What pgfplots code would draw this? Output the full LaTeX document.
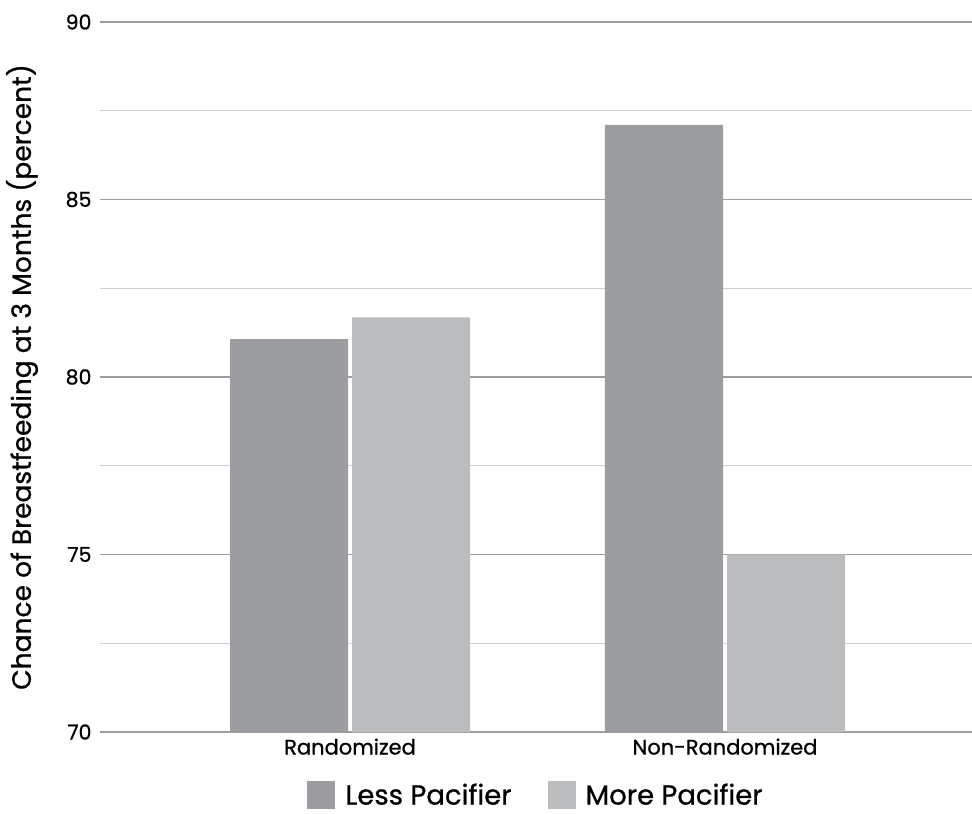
\documentclass[border=0pt]{standalone}
\usepackage{fontspec}
\setmainfont{Poppins}[FakeBold=0.8]
\usepackage{pgfplots}
\pgfplotsset{compat=1.18}
\definecolor{lessc}{HTML}{9C9DA1}
\definecolor{morec}{HTML}{BBBCBE}
\definecolor{majg}{HTML}{9E9E9E}
\definecolor{ming}{HTML}{CFCFCF}
\begin{document}
\begin{tikzpicture}[x=1pt,y=1pt]
\begin{axis}[
  scale only axis, width=872pt, height=710pt,
  at={(0,0)}, anchor=south west,
  xmin=-0.6667, xmax=1.6587, ymin=70, ymax=90,
  ybar=4pt, bar width=118pt,
  xtick={0,1}, xticklabels={Randomized,Non-Randomized},
  ytick={70,75,80,85,90}, minor ytick={72.5,77.5,82.5,87.5},
  ymajorgrids, yminorgrids,
  major grid style={draw=majg, line width=1.6pt},
  minor grid style={draw=ming, line width=1.4pt},
  axis line style={draw=none},
  major tick length=0pt, minor tick length=0pt,
  /pgf/number format/assume math mode=true,
  yticklabel style={font=\fontsize{20.5}{22}\selectfont, xshift=-5pt},
  xticklabel style={font=\fontsize{21}{23}\selectfont, yshift=-3pt},
  ylabel={Chance of Breastfeeding at 3 Months (percent)},
  ylabel style={font=\fontsize{26.5}{30}\selectfont, at={(axis description cs:-0.0894,0.5)}, anchor=center},
  legend columns=2,
  legend style={at={(axis description cs:0.5,-0.1085)}, anchor=south, draw=none, fill=none,
    font=\fontsize{27.5}{30}\selectfont, inner sep=0pt,
    /tikz/every odd column/.append style={column sep=8pt},
    /tikz/every even column/.append style={column sep=34pt}},
  legend image code/.code={\fill[#1] (0pt,-14pt) rectangle (28pt,14pt);},
]
\addplot[fill=lessc, draw=none] coordinates {(0,81.07) (1,87.1)};
\addlegendentry{Less Pacifier}
\addplot[fill=morec, draw=none] coordinates {(0,81.68) (1,75.0)};
\addlegendentry{More Pacifier}
\end{axis}
\pgfresetboundingbox
\path[use as bounding box] (-100,-82) rectangle (872,732);
\end{tikzpicture}
\end{document}
